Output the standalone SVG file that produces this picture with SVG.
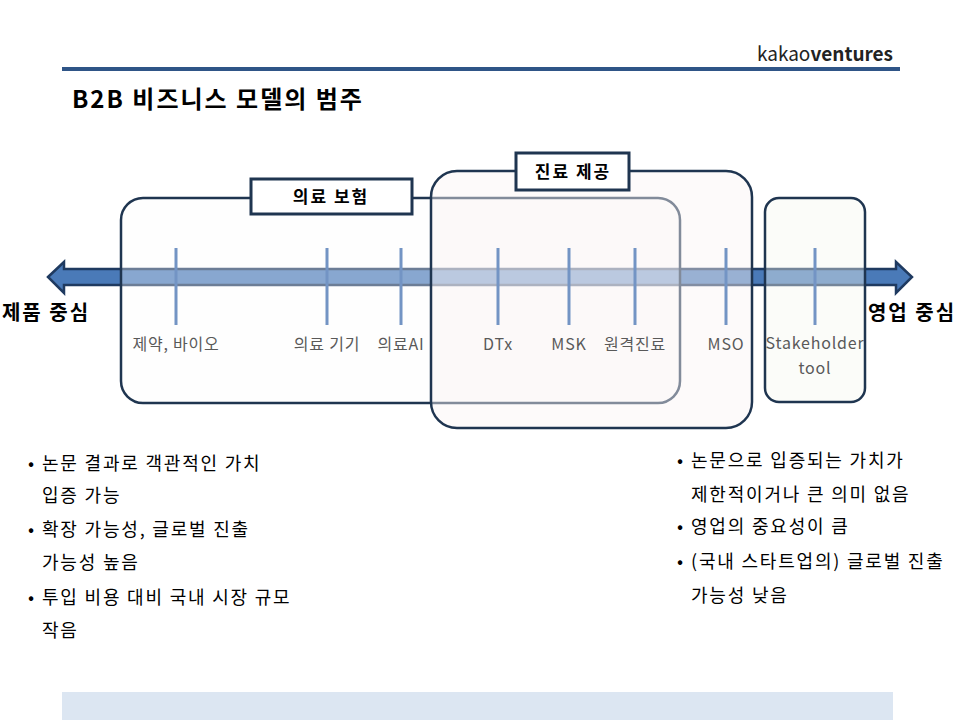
<svg xmlns="http://www.w3.org/2000/svg" width="960" height="720" viewBox="0 0 960 720">
<style>
text{font-family:"Noto Sans CJK KR","Noto Sans",sans-serif}
.tick{stroke:#7394c4;stroke-width:3}
.lbl{font-size:16px;fill:#595959;text-anchor:middle;letter-spacing:0.8px}
.box{stroke:#1f3550;stroke-width:2.5}
.tag{fill:#fff;stroke:#1f3550;stroke-width:3}
.tagt{font-size:17px;font-weight:bold;text-anchor:middle;letter-spacing:2px}
.b{font-size:18px;fill:#000;letter-spacing:1.8px}
</style>
<rect width="960" height="720" fill="#fff"/>
<text x="893" y="61" font-size="19" text-anchor="end" fill="#222">kakao<tspan font-weight="bold">ventures</tspan></text>
<rect x="62" y="67" width="838" height="4" fill="#2f5587"/>
<text x="72" y="108" font-size="24" font-weight="bold" letter-spacing="2">B2B 비즈니스 모델의 범주</text>
<g id="connectors">
<path d="M48,277 L64,262 L64,269 L896,269 L896,262 L912,277 L896,293 L896,285 L64,285 L64,293 Z" fill="#4a7ab8" stroke="#1f3a60" stroke-width="2.5"/>
</g>
<g id="insurance"><rect class="box" x="121" y="198" width="559" height="205" rx="22" fill="#fbfbfd" fill-opacity="0.35"/></g>
<g id="care"><rect class="box" x="431" y="171" width="321" height="257" rx="26" fill="#faf3f3" fill-opacity="0.45"/></g>
<g id="stake"><rect class="box" x="765" y="198" width="100" height="204" rx="14" fill="#f6f8f1" fill-opacity="0.4"/></g>
<g id="ticks">
<line class="tick" x1="176" y1="248" x2="176" y2="325"/>
<line class="tick" x1="327" y1="248" x2="327" y2="325"/>
<line class="tick" x1="401" y1="248" x2="401" y2="325"/>
<line class="tick" x1="498" y1="248" x2="498" y2="325"/>
<line class="tick" x1="569" y1="248" x2="569" y2="325"/>
<line class="tick" x1="635" y1="248" x2="635" y2="325"/>
<line class="tick" x1="726" y1="248" x2="726" y2="325"/>
<line class="tick" x1="815" y1="248" x2="815" y2="325"/>
</g>
<g id="labels">
<text class="lbl" x="176" y="350">제약, 바이오</text>
<text class="lbl" x="327" y="350">의료 기기</text>
<text class="lbl" x="401" y="350">의료AI</text>
<text class="lbl" x="498" y="350">DTx</text>
<text class="lbl" x="569" y="350">MSK</text>
<text class="lbl" x="635" y="350">원격진료</text>
<text class="lbl" x="726" y="350">MSO</text>
<text class="lbl" x="815" y="349" font-size="15" letter-spacing="0">Stakeholder</text>
<text class="lbl" x="815" y="374" font-size="15">tool</text>
</g>
<g id="tag1"><rect class="tag" x="251" y="179" width="161" height="35"/><text class="tagt" x="331" y="203">의료 보험</text></g>
<g id="tag2"><rect class="tag" x="516" y="153" width="113" height="37"/><text class="tagt" x="573" y="178">진료 제공</text></g>
<text x="46" y="320" font-size="20" font-weight="bold" text-anchor="middle" letter-spacing="2">제품 중심</text>
<text x="912" y="320" font-size="20" font-weight="bold" text-anchor="middle" letter-spacing="2">영업 중심</text>
<g id="left-bullets">
<text class="b" x="28" y="470">•</text><text class="b" x="42" y="470">논문 결과로 객관적인 가치</text>
<text class="b" x="42" y="502">입증 가능</text>
<text class="b" x="28" y="536">•</text><text class="b" x="42" y="536">확장 가능성, 글로벌 진출</text>
<text class="b" x="42" y="569">가능성 높음</text>
<text class="b" x="28" y="604">•</text><text class="b" x="42" y="604">투입 비용 대비 국내 시장 규모</text>
<text class="b" x="42" y="637">작음</text>
</g>
<g id="right-bullets">
<text class="b" x="677" y="467">•</text><text class="b" x="691" y="467">논문으로 입증되는 가치가</text>
<text class="b" x="691" y="501">제한적이거나 큰 의미 없음</text>
<text class="b" x="677" y="533">•</text><text class="b" x="691" y="533">영업의 중요성이 큼</text>
<text class="b" x="677" y="568">•</text><text class="b" x="691" y="568">(국내 스타트업의) 글로벌 진출</text>
<text class="b" x="691" y="602">가능성 낮음</text>
</g>
<rect x="62" y="692" width="831" height="28" fill="#dce6f2"/>
</svg>
